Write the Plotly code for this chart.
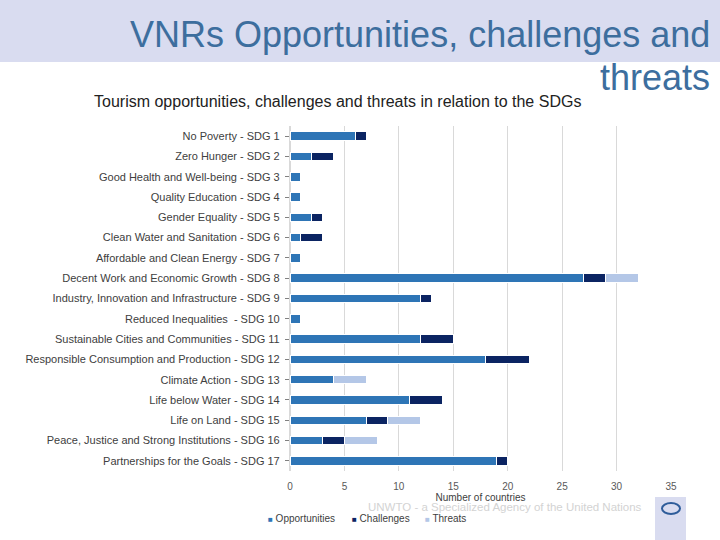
import plotly.graph_objects as go

categories = [
    "No Poverty - SDG 1", "Zero Hunger - SDG 2", "Good Health and Well-being - SDG 3",
    "Quality Education - SDG 4", "Gender Equality - SDG 5", "Clean Water and Sanitation - SDG 6",
    "Affordable and Clean Energy - SDG 7", "Decent Work and Economic Growth - SDG 8",
    "Industry, Innovation and Infrastructure - SDG 9", "Reduced Inequalities  - SDG 10",
    "Sustainable Cities and Communities - SDG 11", "Responsible Consumption and Production - SDG 12",
    "Climate Action - SDG 13", "Life below Water - SDG 14", "Life on Land - SDG 15",
    "Peace, Justice and Strong Institutions - SDG 16", "Partnerships for the Goals - SDG 17",
]
opportunities = [6, 2, 1, 1, 2, 1, 1, 27, 12, 1, 12, 18, 4, 11, 7, 3, 19]
challenges = [1, 2, 0, 0, 1, 2, 0, 2, 1, 0, 3, 4, 0, 3, 2, 2, 1]
threats = [0, 0, 0, 0, 0, 0, 0, 3, 0, 0, 0, 0, 3, 0, 3, 3, 0]
x_ticks = [0, 5, 10, 15, 20, 25, 30, 35]
series_names = ["Opportunities", "Challenges", "Threats"]
series_colors = ["#2E75B6", "#0B2462", "#B4C7E7"]

# pixel geometry helpers
L, R, T, B = 290, 671, 126, 471
def px(x): return (x - L) / (R - L)
def py(y): return (B - y) / (B - T)

fig = go.Figure()
for name, vals, col in zip(series_names, [opportunities, challenges, threats], series_colors):
    fig.add_trace(go.Bar(y=categories, x=vals, name=name, orientation="h",
                         marker=dict(color=col, line=dict(color="white", width=1)),
                         width=0.42))

legend_x = [266, 350, 423]
annotations = [
    dict(text="VNRs Opportunities, challenges and", xref="paper", yref="paper",
         x=px(712), y=py(35), xanchor="right", yanchor="middle", showarrow=False,
         font=dict(size=36, color="#3D6E9E", family="Liberation Sans, Arial, sans-serif")),
    dict(text="threats", xref="paper", yref="paper",
         x=px(712), y=py(78), xanchor="right", yanchor="middle", showarrow=False,
         font=dict(size=36, color="#3D6E9E", family="Liberation Sans, Arial, sans-serif")),
    dict(text="Tourism opportunities, challenges and threats in relation to the SDGs",
         xref="paper", yref="paper", x=px(92), y=py(102), xanchor="left", yanchor="middle",
         showarrow=False, font=dict(size=16, color="#222222")),
    dict(text="UNWTO - a Specialized Agency of the United Nations", xref="paper", yref="paper",
         x=px(505), y=py(507), xanchor="center", yanchor="middle", showarrow=False,
         font=dict(size=11.5, color="#D3D3D3")),
]
for name, col, lx in zip(series_names, series_colors, legend_x):
    annotations.append(dict(
        text=f"<span style='color:{col}; font-size:8px'>■</span> {name}",
        xref="paper", yref="paper", x=px(lx), y=py(518), xanchor="left", yanchor="middle",
        showarrow=False, font=dict(size=10, color="#404040")))

fig.update_layout(
    barmode="stack",
    width=720, height=540,
    margin=dict(l=L, r=720 - R, t=T, b=540 - B, pad=0, autoexpand=False),
    paper_bgcolor="white", plot_bgcolor="white",
    font=dict(family="Liberation Sans, Arial, sans-serif", color="#404040", size=11),
    showlegend=False,
    xaxis=dict(range=[0, 35], tickvals=x_ticks, showgrid=True, gridcolor="#D9D9D9",
               gridwidth=1, zeroline=True, zerolinecolor="#D9D9D9", automargin=False,
               ticks="outside", ticklen=6, tickcolor="rgba(0,0,0,0)",
               tickfont=dict(size=10, color="#595959"),
               title=dict(text="Number of countries", font=dict(size=10, color="#404040"), standoff=0),
               fixedrange=True),
    yaxis=dict(autorange="reversed", showgrid=False, ticks="outside", ticklen=4, automargin=False,
               tickcolor="#808080", tickfont=dict(size=11, color="#404040"), ticksuffix=" "),
    shapes=[
        dict(type="rect", xref="paper", yref="paper", x0=px(0), x1=px(720), y0=py(62), y1=py(0),
             fillcolor="#D9DCF0", line=dict(width=0), layer="below"),
        dict(type="rect", xref="paper", yref="paper", x0=px(655), x1=px(686), y0=py(540), y1=py(497),
             fillcolor="#D9DCF0", line=dict(width=0), layer="below"),
        dict(type="circle", xref="paper", yref="paper", x0=px(662), x1=px(680), y0=py(514), y1=py(503),
             fillcolor="rgba(0,0,0,0)", line=dict(color="#2E5C9A", width=2)),
    ],
    annotations=annotations,
)

fig.write_html("out.html", config={"displayModeBar": False},
               post_script="document.body.style.margin='0px';")
